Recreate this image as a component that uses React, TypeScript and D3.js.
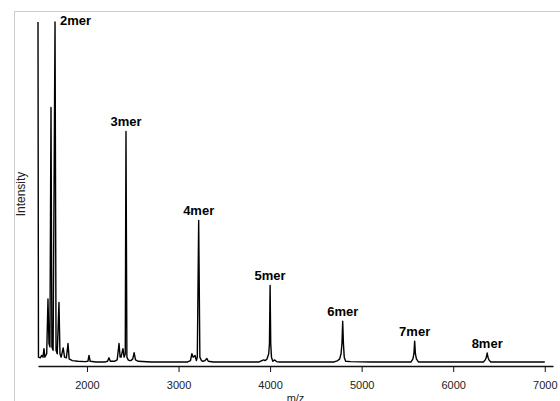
import React, { useRef, useEffect } from 'react';
import * as d3 from 'd3';

// spectrum vertices: m/z and relative intensity
const mz = [
  1465, 1470, 1490, 1505, 1520, 1530, 1540, 1560, 1574, 1585, 1595, 1607, 1617, 1630, 1651,
  1662, 1675, 1694, 1705, 1718, 1740, 1755, 1775, 1793, 1805, 1840, 1900, 1980, 2010, 2022,
  2035, 2100, 2200, 2225, 2240, 2255, 2300, 2330, 2350, 2362, 2372, 2393, 2405, 2418, 2426,
  2436, 2450, 2465, 2480, 2500, 2515, 2530, 2560, 2700, 2900, 3100, 3130, 3146, 3160, 3180,
  3195, 3205, 3220, 3233, 3250, 3268, 3290, 3310, 3325, 3380, 3600, 3880, 3910, 3930, 3945,
  3965, 3985, 3993, 4000, 4007, 4015, 4030, 4050, 4070, 4100, 4400, 4700, 4740, 4760, 4775,
  4785, 4793, 4801, 4810, 4825, 4880, 5100, 5400, 5540, 5560, 5571, 5579, 5587, 5598, 5620,
  5900, 6100, 6330, 6350, 6362, 6371, 6380, 6390, 6410, 6700, 7000,
];
const intensity = [
  1.0, 0.02, 0.018, 0.025, 0.02, 0.045, 0.02, 0.03, 0.19, 0.06, 0.05, 0.75, 0.05, 0.04, 1.0,
  0.04, 0.03, 0.18, 0.03, 0.02, 0.047, 0.02, 0.018, 0.06, 0.015, 0.01, 0.008, 0.007, 0.008, 0.025,
  0.008, 0.006, 0.006, 0.008, 0.018, 0.008, 0.008, 0.012, 0.06, 0.02, 0.02, 0.045, 0.02, 0.03, 0.68,
  0.02, 0.012, 0.01, 0.01, 0.015, 0.033, 0.012, 0.008, 0.006, 0.006, 0.006, 0.01, 0.03, 0.02, 0.025,
  0.01, 0.02, 0.42, 0.02, 0.01, 0.008, 0.01, 0.016, 0.008, 0.006, 0.006, 0.006, 0.01, 0.012, 0.01,
  0.014, 0.03, 0.06, 0.23, 0.06, 0.02, 0.008, 0.012, 0.007, 0.006, 0.006, 0.006, 0.01, 0.015, 0.03,
  0.06, 0.125, 0.06, 0.02, 0.008, 0.007, 0.006, 0.006, 0.006, 0.015, 0.03, 0.067, 0.03, 0.015, 0.006,
  0.006, 0.006, 0.006, 0.012, 0.02, 0.032, 0.02, 0.012, 0.006, 0.006, 0.006,
];

const peakLabels = ['2mer', '3mer', '4mer', '5mer', '6mer', '7mer', '8mer'];
const peakMz = [1651, 2426, 3220, 4000, 4793, 5579, 6371];
const peakIntensity = [1.0, 0.68, 0.42, 0.23, 0.125, 0.067, 0.032];

const xTicks = [2000, 3000, 4000, 5000, 6000, 7000];

const W = 560;
const H = 401;
const FONT = '"Liberation Sans", Arial, Helvetica, sans-serif';

const App = () => {
  const svgRef = useRef(null);

  useEffect(() => {
    const svg = d3.select(svgRef.current);
    svg.selectAll('*').remove();

    const left = 38, right = 553, top = 22, bottom = 364, axisY = 366;

    const x = d3.scaleLinear().domain([1465, 7090]).range([left, right]);
    const y = d3.scaleLinear().domain([0, 1]).range([bottom, top]);

    // light frame
    svg.append('rect')
      .attr('x', 14.5).attr('y', 11.5)
      .attr('width', W).attr('height', H)
      .attr('fill', 'none').attr('stroke', '#cccccc').attr('stroke-width', 1);

    const pts = mz.map((m, i) => [m, intensity[i]]);
    const line = d3.line()
      .x(d => x(d[0]))
      .y(d => y(d[1]));

    svg.append('path')
      .datum(pts)
      .attr('fill', 'none')
      .attr('stroke', '#000')
      .attr('stroke-width', 1.4)
      .attr('stroke-linejoin', 'round')
      .attr('d', line);

    const xAxis = d3.axisBottom(x)
      .tickValues(xTicks)
      .tickFormat(d3.format('d'))
      .tickSizeInner(6)
      .tickSizeOuter(0)
      .tickPadding(9);

    const gx = svg.append('g')
      .attr('transform', `translate(0,${axisY})`)
      .call(xAxis);
    gx.select('.domain').attr('stroke', '#111').attr('stroke-width', 1.6);
    gx.selectAll('.tick line').attr('stroke', '#111').attr('stroke-width', 1);
    gx.selectAll('.tick text')
      .attr('fill', '#222')
      .style('font-family', FONT)
      .style('font-size', '11px');

    // peak labels
    peakLabels.forEach((lab, i) => {
      const px = x(peakMz[i]);
      const py = y(peakIntensity[i]);
      const first = i === 0;
      svg.append('text')
        .attr('x', first ? px + 5 : px)
        .attr('y', first ? py + 3 : py - 5)
        .attr('text-anchor', first ? 'start' : 'middle')
        .style('font-family', FONT)
        .style('font-size', '13px')
        .style('font-weight', 'bold')
        .attr('fill', '#000')
        .text(lab);
    });

    svg.append('text')
      .attr('x', (left + right) / 2)
      .attr('y', 402)
      .attr('text-anchor', 'middle')
      .style('font-family', FONT)
      .style('font-size', '11px')
      .attr('fill', '#222')
      .text('m/z');

    svg.append('text')
      .attr('transform', `translate(25,${(top + axisY) / 2}) rotate(-90)`)
      .attr('text-anchor', 'middle')
      .style('font-family', FONT)
      .style('font-size', '12px')
      .attr('fill', '#222')
      .text('Intensity');
  }, []);

  return (
    <svg
      ref={svgRef}
      width={W}
      height={H}
      style={{ position: 'absolute', left: 0, top: 0, background: '#fff' }}
    />
  );
};

export default App;
